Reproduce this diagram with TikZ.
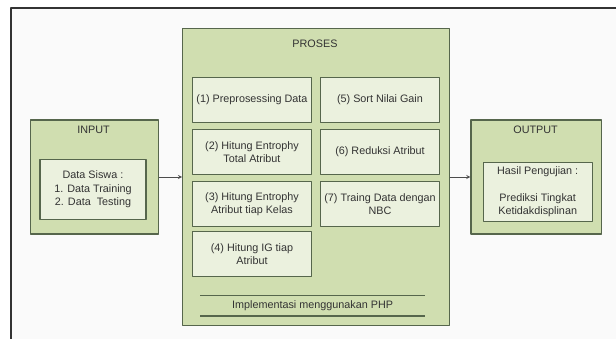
\documentclass[tikz,border=0pt]{standalone}
\usepackage{fontspec}
\setmainfont{Liberation Sans}
\definecolor{boxgreen}{HTML}{D0DEB0}
\definecolor{innergreen}{HTML}{EBF1DE}
\definecolor{edgegreen}{HTML}{56664C}
\definecolor{txtgray}{HTML}{333333}
\tikzset{
  outerbox/.style={draw=edgegreen, line width=1.1pt, fill=boxgreen, rectangle, inner sep=0pt},
  stepbox/.style={draw=edgegreen, line width=1.1pt, fill=innergreen, rectangle, inner sep=0pt, align=center, minimum width=119pt, minimum height=45pt},
  databox/.style={draw=edgegreen, line width=1.1pt, fill=innergreen, rectangle, inner sep=0pt, align=center},
  lbl/.style={text=txtgray}
}
\begin{document}
\begin{tikzpicture}[x=1pt, y=-1pt, font=\fontsize{10.8}{13.2}\selectfont, text=txtgray, line join=round, >=stealth]
			\useasboundingbox (0,0) rectangle (616,339);
			\fill[gray!4] (11,8) rectangle (616,339);
			\draw[line width=1.4pt, black!80] (11,339) -- (11,8) -- (616,8);
			% input
			\node[outerbox, minimum width=128.4pt, minimum height=114pt] (input) at (94.5,177) {};
			\node[lbl] (inputlbl) at (93.5,130) {INPUT};
			\node[databox, minimum width=106pt, minimum height=60pt] (siswa) at (93,189.3)
			{Data Siswa :\\1. Data Training\\2. Data~~Testing};
			% proses
			\node[outerbox, minimum width=266.4pt, minimum height=297.4pt] (proses) at (315.9,177) {};
			\node[lbl] (proseslbl) at (315,44) {PROSES};
			\node[stepbox] (s1) at (252,100.2) {(1) Preprosessing Data};
			\node[stepbox] (s2) at (252,152.2) {(2) Hitung Entrophy\\Total Atribut};
			\node[stepbox] (s3) at (252,204.2) {(3) Hitung Entrophy\\Atribut tiap Kelas};
			\node[stepbox] (s4) at (252,254) {(4) Hitung IG tiap\\Atribut};
			\node[stepbox] (s5) at (380,100.2) {(5) Sort Nilai Gain};
			\node[stepbox] (s6) at (380,152.2) {(6) Reduksi Atribut};
			\node[stepbox] (s7) at (380,204.2) {(7) Traing Data dengan\\NBC};
			\node[minimum width=224.4pt, minimum height=20pt, inner sep=0pt] (php) at (312.6,305.7)
			{Implementasi menggunakan PHP};
			\draw[edgegreen, line width=1.3pt] (php.north west) -- (php.north east);
			\draw[edgegreen, line width=1.3pt] (php.south west) -- (php.south east);
			% output
			\node[outerbox, minimum width=130.6pt, minimum height=114pt] (output) at (536.3,177) {};
			\node[lbl] (outputlbl) at (535.6,130) {OUTPUT};
			\node[databox, minimum width=108.7pt, minimum height=59.4pt] (hasil) at (537.7,192)
			{Hasil Pengujian :\\[13.2pt]Prediksi Tingkat\\Ketidakdisplinan};
			% arrows
			\draw[->, black!70, line width=0.9pt] (input) -- (proses);
			\draw[->, black!70, line width=0.9pt] (proses) -- (output);
		\end{tikzpicture}
\end{document}
